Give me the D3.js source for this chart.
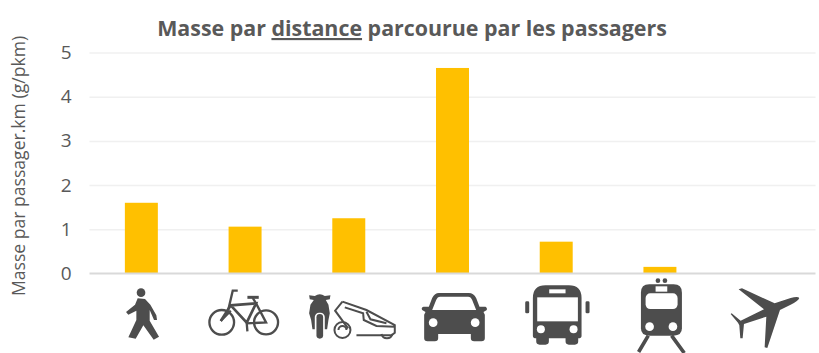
<!DOCTYPE html>
<html>
<head>
<meta charset="utf-8">
<script src="https://cdn.jsdelivr.net/npm/d3@7"></script>
<style>
  html, body { margin: 0; background: #fff; }
  svg { display: block; font-family: "Open Sans", sans-serif; }
  .grid line { stroke: #f0f0f0; stroke-width: 1.5; }
  .grid path { display: none; }
  .yaxis path, .yaxis line { display: none; }
  .yaxis text { fill: #595959; font-size: 19px; font-family: "Open Sans", sans-serif; }
</style>
</head>
<body>
<svg id="chart" width="819" height="353"></svg>
<script>
// values
const categories = ['Marche', 'Vélo', 'Deux-roues', 'Voiture', 'Bus', 'Train', 'Avion'];
const masses = [1.6, 1.06, 1.25, 4.65, 0.72, 0.15, 0];
const yTicks = [0, 1, 2, 3, 4, 5];
const titleParts = ['Masse par ', 'distance', ' parcourue par les passagers'];
const yLabel = 'Masse par passager.km (g/pkm)';

const width = 819, height = 353;
const margin = {top: 52.5, right: 3.5, bottom: 79.5, left: 89.5};
const chartWidth = width - margin.left - margin.right;
const chartHeight = height - margin.top - margin.bottom;
const dark = '#4d4d4d';

const svg = d3.select('#chart');

const xScale = d3.scaleBand()
  .domain(categories)
  .range([0, chartWidth])
  .paddingInner(0.682)
  .paddingOuter(0.341);

const yScale = d3.scaleLinear()
  .domain([0, 5])
  .range([chartHeight, 0]);

const g = svg.append('g')
  .attr('transform', `translate(${margin.left}, ${margin.top})`);

// gridlines
g.append('g')
  .attr('class', 'grid')
  .call(d3.axisLeft(yScale).tickValues(yTicks.slice(1)).tickSize(-chartWidth).tickFormat(''));

// y axis labels
g.append('g')
  .attr('class', 'yaxis')
  .call(d3.axisLeft(yScale).tickValues(yTicks).tickSize(0).tickPadding(18).tickFormat(d3.format('d')));

// bars
g.selectAll('.bar')
  .data(masses)
  .join('rect')
  .attr('class', 'bar')
  .attr('x', (d, i) => xScale(categories[i]))
  .attr('y', d => yScale(d))
  .attr('width', xScale.bandwidth())
  .attr('height', d => chartHeight - yScale(d))
  .attr('fill', '#ffc000');

// baseline
g.append('line')
  .attr('x1', 0)
  .attr('x2', chartWidth)
  .attr('y1', yScale(0))
  .attr('y2', yScale(0))
  .attr('stroke', '#d9d9d9')
  .attr('stroke-width', 2);

// title
const titleText = svg.append('text')
  .attr('x', 412)
  .attr('y', 36)
  .attr('text-anchor', 'middle')
  .attr('fill', '#595959')
  .attr('font-size', 21.4)
  .attr('font-weight', 700);
titleParts.forEach((t, i) => {
  titleText.append('tspan')
    .attr('text-decoration', i === 1 ? 'underline' : null)
    .style('white-space', 'pre')
    .text(t);
});

// y label
svg.append('text')
  .attr('transform', 'translate(25, 166) rotate(-90)')
  .attr('text-anchor', 'middle')
  .attr('fill', '#595959')
  .attr('font-size', 17.6)
  .text(yLabel);

// pictograms, drawn at 3x and scaled down, one per category
const icons = {
  'Marche': {cx: 123, draw(s) {
    s.append('circle').attr('cx', 122).attr('cy', 68).attr('r', 13).attr('fill', dark);
    s.append('path').attr('fill', dark)
      .attr('d', 'M112 85 L134 87 L150 104 L168 136 L170 150 L161 150 L148 120 L148 152 L176 200 L160 209 L129 166 L106 206 L84 202 L108 150 L108 122 L84 134 L77 126 L104 104 Z');
  }},
  'Vélo': {cx: 435, draw(s) {
    const p = s.append('g').attr('fill', 'none').attr('stroke', dark).attr('stroke-width', 7);
    p.append('circle').attr('cx', 365).attr('cy', 157).attr('r', 37);
    p.append('circle').attr('cx', 498).attr('cy', 157).attr('r', 36);
    p.append('path').attr('stroke-width', 8).attr('d', 'M362 153 L392 106 L468 100 L440 158 L392 106');
    p.append('path').attr('d', 'M413 62 L398 62 L385 118 M362 153 L392 122 M468 100 L498 157 L440 160 L442 184 M458 84 L468 100');
    p.append('path').attr('stroke-width', 9).attr('d', 'M442 82 L476 82');
  }},
  'Deux-roues': {cx: 747, draw(s) {
    s.append('path').attr('fill', dark)
      .attr('d', 'M628 76 L645 78 Q660 68 675 78 L692 76 L690 88 L678 90 L686 104 L690 130 L686 150 L682 178 L638 178 L634 150 L628 130 L632 104 L642 90 L630 88 Z');
    s.append('rect').attr('x', 645).attr('y', 128).attr('width', 30).attr('height', 84).attr('rx', 13).attr('fill', '#fff');
    s.append('rect').attr('x', 650).attr('y', 132).attr('width', 20).attr('height', 74).attr('rx', 10).attr('fill', dark);
    const p = s.append('g').attr('fill', 'none').attr('stroke', dark).attr('stroke-width', 6);
    p.append('path').attr('d', 'M728 95 L800 120 L885 165 L885 188 L875 196 L770 196 M728 95 L706 122 L745 175 M735 112 L790 130 L792 150 L830 168 L885 170');
    p.append('path').attr('d', 'M800 125 L812 148 L860 160');
    p.append('circle').attr('cx', 728).attr('cy', 180).attr('r', 24);
    p.append('path').attr('d', 'M716 180 A12 12 0 0 1 740 180');
    p.append('path').attr('d', 'M845 192 A17 17 0 0 0 878 192');
  }},
  'Voiture': {cx: 159, draw(s) {
    s.append('path').attr('fill-rule', 'evenodd').attr('fill', dark)
      .attr('d', 'M118 69 L208 69 Q222 69 230 84 L240 110 L258 110 Q264 112 262 120 L252 126 L256 134 L256 205 Q256 214 246 214 L224 214 Q214 214 214 205 L214 192 L116 192 L116 205 Q116 214 106 214 L84 214 Q74 214 74 205 L74 134 L78 126 L68 120 Q64 112 72 110 L88 110 L98 84 Q106 69 118 69 Z M122 80 Q114 80 110 90 L98 120 L230 120 L218 90 Q214 80 206 80 Z');
    s.selectAll('.lamp').data([101, 227]).join('circle').attr('cx', d => d).attr('cy', 158).attr('r', 13).attr('fill', '#fff');
  }},
  'Bus': {cx: 468, draw(s) {
    s.append('path').attr('fill', dark)
      .attr('d', 'M436 46 L506 46 Q544 46 544 84 L544 198 Q544 205 534 205 L534 214 Q534 224 524 224 L506 224 Q496 224 496 214 L496 205 L446 205 L446 214 Q446 224 436 224 L418 224 Q408 224 408 214 L408 205 Q398 205 398 198 L398 84 Q398 46 436 46 Z');
    s.append('rect').attr('x', 411).attr('y', 82).attr('width', 122).attr('height', 72).attr('fill', '#fff');
    s.append('rect').attr('x', 447).attr('y', 58).attr('width', 49).attr('height', 12).attr('fill', '#fff');
    s.selectAll('.lamp').data([422, 520]).join('circle').attr('cx', d => d).attr('cy', 178).attr('r', 12).attr('fill', '#fff');
    s.selectAll('.mirror').data([375, 556]).join('rect').attr('x', d => d).attr('y', 94).attr('width', 12).attr('height', 36).attr('rx', 4).attr('fill', dark);
  }},
  'Train': {cx: 777, draw(s) {
    s.selectAll('.dot').data([771, 792]).join('circle').attr('cx', d => d).attr('cy', 32).attr('r', 7).attr('fill', dark);
    s.append('path').attr('fill', dark)
      .attr('d', 'M745 43 L818 43 Q843 43 843 68 L843 175 Q843 197 818 197 L745 197 Q720 197 720 175 L720 68 Q720 43 745 43 Z');
    s.append('rect').attr('x', 734).attr('y', 70).attr('width', 96).attr('height', 47).attr('rx', 14).attr('fill', '#fff');
    s.append('rect').attr('x', 764).attr('y', 49).attr('width', 35).attr('height', 16).attr('fill', '#fff');
    s.selectAll('.lamp').data([746, 816]).join('circle').attr('cx', d => d).attr('cy', 170).attr('r', 13).attr('fill', '#fff');
    s.append('path').attr('fill', 'none').attr('stroke', dark).attr('stroke-width', 11)
      .attr('d', 'M742 197 L713 246 M812 197 L850 249');
  }},
  'Avion': {cx: 1089, draw(s) {
    s.append('path').attr('fill', dark)
      .attr('d', 'M1014 58 L1024 55 L1122 100 L1170 84 Q1192 78 1196 84 Q1192 94 1170 104 L1138 120 L1100 234 L1092 232 L1097 140 L1030 162 L1026 205 L1019 205 L1016 166 L1012 158 L990 132 L993 130 L1020 152 L1090 118 Z');
  }}
};

const iconG = svg.append('g').attr('class', 'icons');
categories.forEach(c => {
  const cx = margin.left + xScale(c) + xScale.bandwidth() / 2;
  const s = iconG.append('g')
    .attr('transform', `translate(${cx}, 270) scale(${1 / 3}) translate(${-icons[c].cx}, 0)`);
  icons[c].draw(s);
});
</script>
</body>
</html>
